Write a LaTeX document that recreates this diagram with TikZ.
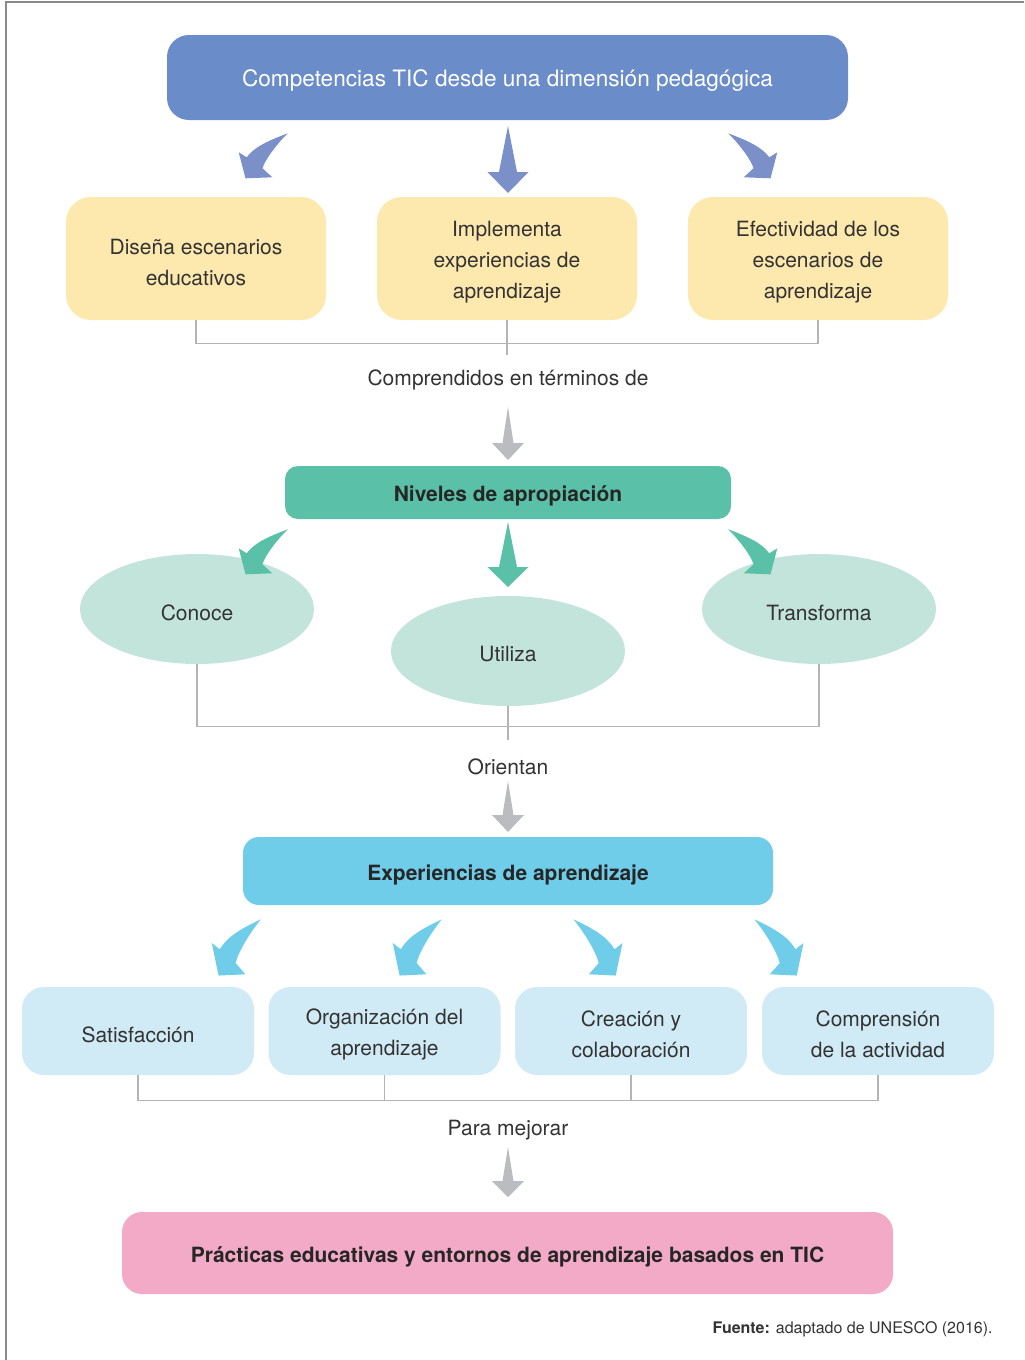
\documentclass[tikz,border=0pt]{standalone}
\usepackage{fontspec}
\setmainfont{TeX Gyre Heros}
\usetikzlibrary{shapes.geometric}
\definecolor{topblue}{HTML}{6A8CC8}
\definecolor{arrblue}{HTML}{7B90C8}
\definecolor{yel}{HTML}{FDE8AE}
\definecolor{grn}{HTML}{5BC0A8}
\definecolor{lgrn}{HTML}{C2E4DA}
\definecolor{cyn}{HTML}{6FCDEA}
\definecolor{lcyn}{HTML}{D1EBF6}
\definecolor{pnk}{HTML}{F2AAC6}
\definecolor{txt}{HTML}{333333}
\definecolor{lin}{HTML}{B4B4B8}
\definecolor{garr}{HTML}{BBBCC0}
\definecolor{frame}{HTML}{8A8A8A}
\newcommand\carrow[5]{%
  \fill[#5, shift={(#1,#2)}, xscale=#3, yscale=#4]
    (0,0) .. controls (-18,7) and (-33,13) .. (-41,24) -- (-49,19) -- (-42.2,45)
    -- (-15.4,44) -- (-25.2,35) .. controls (-23,27) and (-12,12) .. (0,0) -- cycle;}
\newcommand\sarrow[7]{%
  \fill[#7] (#1,#2) -- ({#1+#6},#3) -- ({#1+#5},#3) -- (#1,#4) -- ({#1-#5},#3) -- ({#1-#6},#3) -- cycle;}
\begin{document}
\begin{tikzpicture}[x=0.5pt,y=-0.5pt,
  regf/.style={font=\fontsize{10.5}{15.5}\selectfont, text=txt},
  tx/.style={regf, align=center, inner sep=0pt, yshift=-1.75pt},
  btx/.style={tx, font=\fontsize{10.5}{15.5}\selectfont\bfseries, text=black!85},
  box/.style={rectangle, inner sep=0pt},
  ybox/.style={box, fill=yel, minimum width=130pt, minimum height=61.5pt, rounded corners=12.5pt},
  ell/.style={ellipse, fill=lgrn, inner sep=0pt, minimum width=117pt, minimum height=55pt},
  cbox/.style={box, fill=lcyn, minimum width=116pt, minimum height=44pt, rounded corners=11pt},
  lab/.style={regf, inner sep=1pt},
  conn/.style={draw=lin, line width=0.6pt}]
\useasboundingbox (0,0) rectangle (1024,1360);
\fill[white] (0,0) rectangle (1024,1360);
\draw[frame, line width=1pt] (6,1360) -- (6,2) -- (1024,2);

% top
\node[box, fill=topblue, minimum width=340.5pt, minimum height=42.5pt, rounded corners=11pt,
  label={[tx, text=white, font=\fontsize{11.3}{15.5}\selectfont]center:Competencias TIC desde una dimensión pedagógica}] (top) at (507.5,77.5) {};

\node[ybox, label={[tx]center:Diseña escenarios\\educativos}] (y1) at (196,258.5) {};
\node[ybox, label={[tx]center:Implementa\\experiencias de\\aprendizaje}] (y2) at (507,258.5) {};
\node[ybox, label={[tx]center:Efectividad de los\\escenarios de\\aprendizaje}] (y3) at (818,258.5) {};
\carrow{287.7}{133.3}{1}{1}{arrblue}
\sarrow{508}{126}{172}{193}{20.5}{9}{arrblue}
\carrow{728.3}{133.3}{-1}{1}{arrblue}
\draw[conn] (y1.south) -- ++(0,23) -| (y3.south);
\draw[conn] (y2.south) -- ++(0,35);
\node[lab] (l1) at (508,379.5) {Comprendidos en términos de};
\sarrow{508}{407}{443}{460}{16}{5.5}{garr}

% green
\node[box, fill=grn, minimum width=223pt, minimum height=26.5pt, rounded corners=6.5pt,
  label={[btx]center:Niveles de apropiación}] (niv) at (508,492.5) {};

\node[ell, label={[tx]center:Conoce}] (c1) at (197,609) {};
\node[ell, label={[tx]center:Utiliza}] (c2) at (508,651) {};
\node[ell, label={[tx]center:Transforma}] (c3) at (819,609) {};
\carrow{287.7}{529.3}{1}{1}{grn}
\sarrow{508}{522}{567}{587}{20.5}{9}{grn}
\carrow{728.3}{529.3}{-1}{1}{grn}
\draw[conn] (c1.south) -- ++(0,62) -| (c3.south);
\draw[conn] (c2.south) -- ++(0,34);
\node[lab] (l2) at (508,766.5) {Orientan};
\sarrow{508}{781}{815}{832}{16}{5.5}{garr}

% cyan
\node[box, fill=cyn, minimum width=265pt, minimum height=34pt, rounded corners=8pt,
  label={[btx]center:Experiencias de aprendizaje}] (exp) at (508,871) {};

\node[cbox, label={[tx]center:Satisfacción}] (s1) at (138,1031) {};
\node[cbox, label={[tx]center:Organización del\\aprendizaje}] (s2) at (384.5,1031) {};
\node[cbox, label={[tx]center:Creación y\\colaboración}] (s3) at (631,1031) {};
\node[cbox, label={[tx]center:Comprensión\\de la actividad}] (s4) at (878,1031) {};
\carrow{260.8}{919.3}{1}{1.25}{cyn}
\carrow{441.8}{919.3}{1}{1.25}{cyn}
\carrow{573.5}{919.3}{-1}{1.25}{cyn}
\carrow{754.5}{919.3}{-1}{1.25}{cyn}
\draw[conn] (s1.south) -- ++(0,25) -| (s4.south);
\draw[conn] (s2.south) -- ++(0,25);
\draw[conn] (s3.south) -- ++(0,25);
\node[lab] (l3) at (508,1130.5) {Para mejorar};
\sarrow{508}{1147}{1181}{1197}{16}{5.5}{garr}

% pink
\node[box, fill=pnk, minimum width=385.5pt, minimum height=41pt, rounded corners=10pt,
  label={[btx]center:Prácticas educativas y entornos de aprendizaje basados en TIC}] (pr) at (507.5,1253) {};

\node[anchor=east, text=txt, font=\fontsize{8}{10}\selectfont, inner sep=0pt] (src) at (993,1329) {\textbf{Fuente:} adaptado de UNESCO (2016).};
\end{tikzpicture}
\end{document}
